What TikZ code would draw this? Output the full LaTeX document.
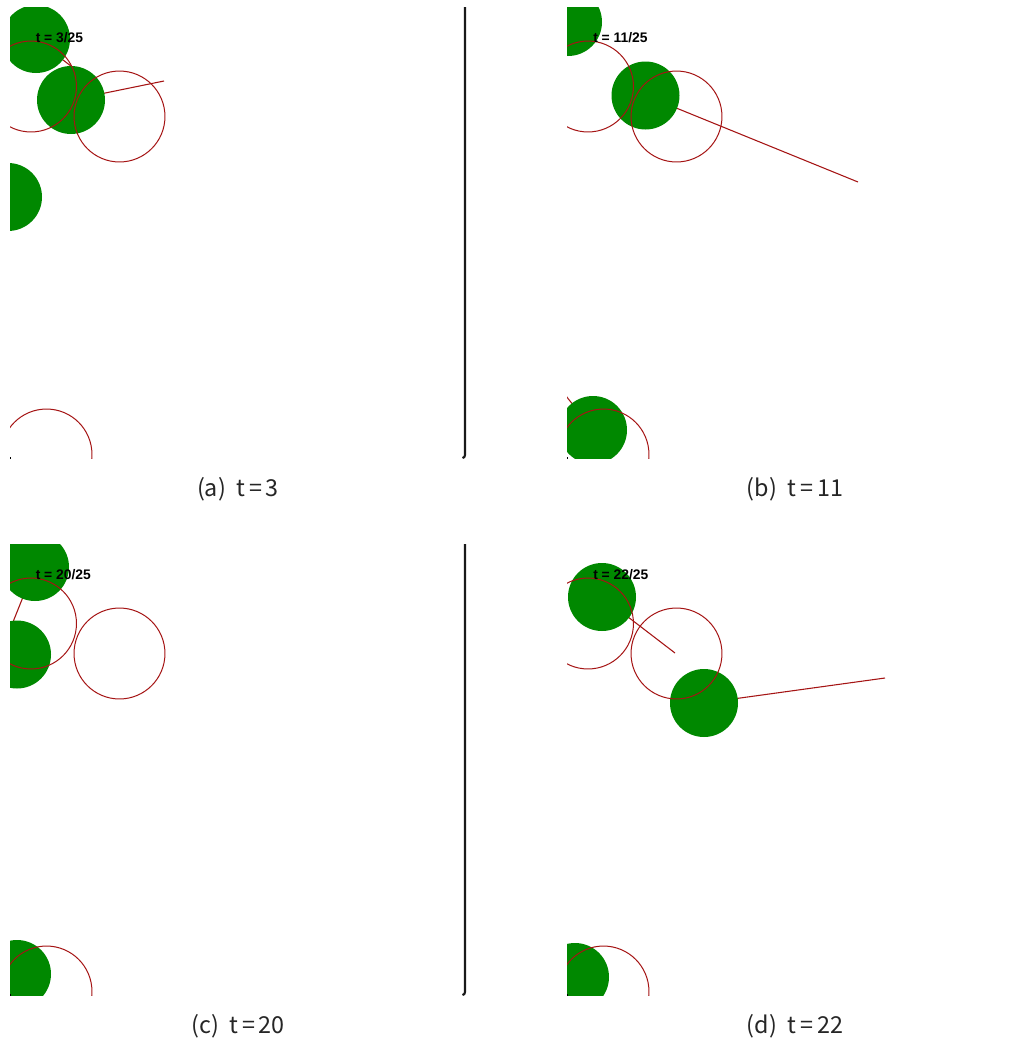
\documentclass[tikz,border=0pt]{standalone}
\usepackage{fontspec}
\newfontfamily\labelfont{Liberation Sans}
\newfontfamily\capfont{Noto Sans CJK JP}
\definecolor{ballgreen}{RGB}{0,136,0}
\definecolor{ringred}{RGB}{165,20,20}
\tikzset{
  ball/.style={fill=ballgreen, draw=none},
  ring/.style={draw=ringred, line width=0.75pt},
  vel/.style={draw=ringred, line width=0.8pt},
  stamp/.style={anchor=west, inner sep=0pt, font=\labelfont\bfseries\fontsize{10.4}{12}\selectfont},
  caption/.style={inner sep=0pt, font=\capfont\fontsize{17.5}{20}\selectfont, text=black!85},
  frameline/.style={draw=black!90, line width=1.6pt}
}
% fixed target rings, shared by every frame
\newcommand\targetrings{%
  \draw[ring] (31,86.5) circle (34.1pt);
  \draw[ring] (119.5,116.5) circle (34.1pt);
  \draw[ring] (46.5,454.5) circle (34.1pt);
}
\begin{document}
\begin{tikzpicture}[x=0.75pt,y=-0.75pt]
\useasboundingbox (0,0) rectangle (1017,1043);
\fill[white] (0,0) rectangle (1017,1043);

% ---------- frame (a): t = 3 ----------
\begin{scope}
  \clip (10,7) rectangle (466,458);
  \coordinate (a1) at (36,39);
  \coordinate (a2) at (71,100);
  \coordinate (a3) at (8,197);
  \coordinate (a1v) at (76,70);
  \coordinate (a2v) at (164,81);
  \draw[vel] (a1) -- (a1v);
  \draw[vel] (a2) -- (a2v);
  \fill[ball] (a1) circle (25.5pt);
  \fill[ball] (a2) circle (25.5pt);
  \fill[ball] (a3) circle (25.5pt);
  \targetrings
  \node[stamp] (ta) at (35.5,37.5) {t = 3/25};
\end{scope}
\draw[frameline] (465,7) -- (465,455) to[out=-90,in=0] (462.5,458);
\fill[black] (9.5,457) rectangle (11,458.5);
\node[caption] (capa) at (238,489) {(a)\ \ t\,=\,3};

% ---------- frame (b): t = 11 ----------
\begin{scope}[shift={(557,0)}]
  \clip (10,7) rectangle (460,458);
  \coordinate (b1) at (11,22);
  \coordinate (b2) at (88.5,95.5);
  \coordinate (b3) at (36,430);
  \coordinate (b2v) at (301,182);
  \coordinate (b3v) at (-10,372);
  \draw[vel] (b2) -- (b2v);
  \draw[vel] (b3) -- (b3v);
  \fill[ball] (b1) circle (25.5pt);
  \fill[ball] (b2) circle (25.5pt);
  \fill[ball] (b3) circle (25.5pt);
  \targetrings
  \node[stamp] (tb) at (36,37.5) {t = 11/25};
\end{scope}
\fill[black] (566.5,457) rectangle (568,458.5);
\node[caption] (capb) at (795,489) {(b)\ \ t\,=\,11};

% ---------- frame (c): t = 20 ----------
\begin{scope}[shift={(0,537)}]
  \clip (10,7) rectangle (466,458);
  \coordinate (c1) at (35,30);
  \coordinate (c2) at (17,117.5);
  \coordinate (c3) at (17,437);
  \coordinate (c1v) at (7,100);
  \draw[vel] (c1) -- (c1v);
  \fill[ball] (c1) circle (25.5pt);
  \fill[ball] (c2) circle (25.5pt);
  \fill[ball] (c3) circle (25.5pt);
  \targetrings
  \node[stamp] (tc) at (35.5,37.5) {t = 20/25};
\end{scope}
\draw[frameline] (465,544) -- (465,992) to[out=-90,in=0] (462.5,995);
\fill[black] (9.5,994) rectangle (11,995.5);
\node[caption] (capc) at (238,1026) {(c)\ \ t\,=\,20};

% ---------- frame (d): t = 22 ----------
\begin{scope}[shift={(557,537)}]
  \clip (10,7) rectangle (460,458);
  \coordinate (d1) at (45,60);
  \coordinate (d2) at (147,166);
  \coordinate (d3) at (18,440);
  \coordinate (d1v) at (118,116);
  \coordinate (d2v) at (328,141);
  \draw[vel] (d1) -- (d1v);
  \draw[vel] (d2) -- (d2v);
  \fill[ball] (d1) circle (25.5pt);
  \fill[ball] (d2) circle (25.5pt);
  \fill[ball] (d3) circle (25.5pt);
  \targetrings
  \node[stamp] (td) at (36,37.5) {t = 22/25};
\end{scope}
\fill[black] (566.5,994) rectangle (568,995.5);
\node[caption] (capd) at (795,1026) {(d)\ \ t\,=\,22};
\end{tikzpicture}
\end{document}
